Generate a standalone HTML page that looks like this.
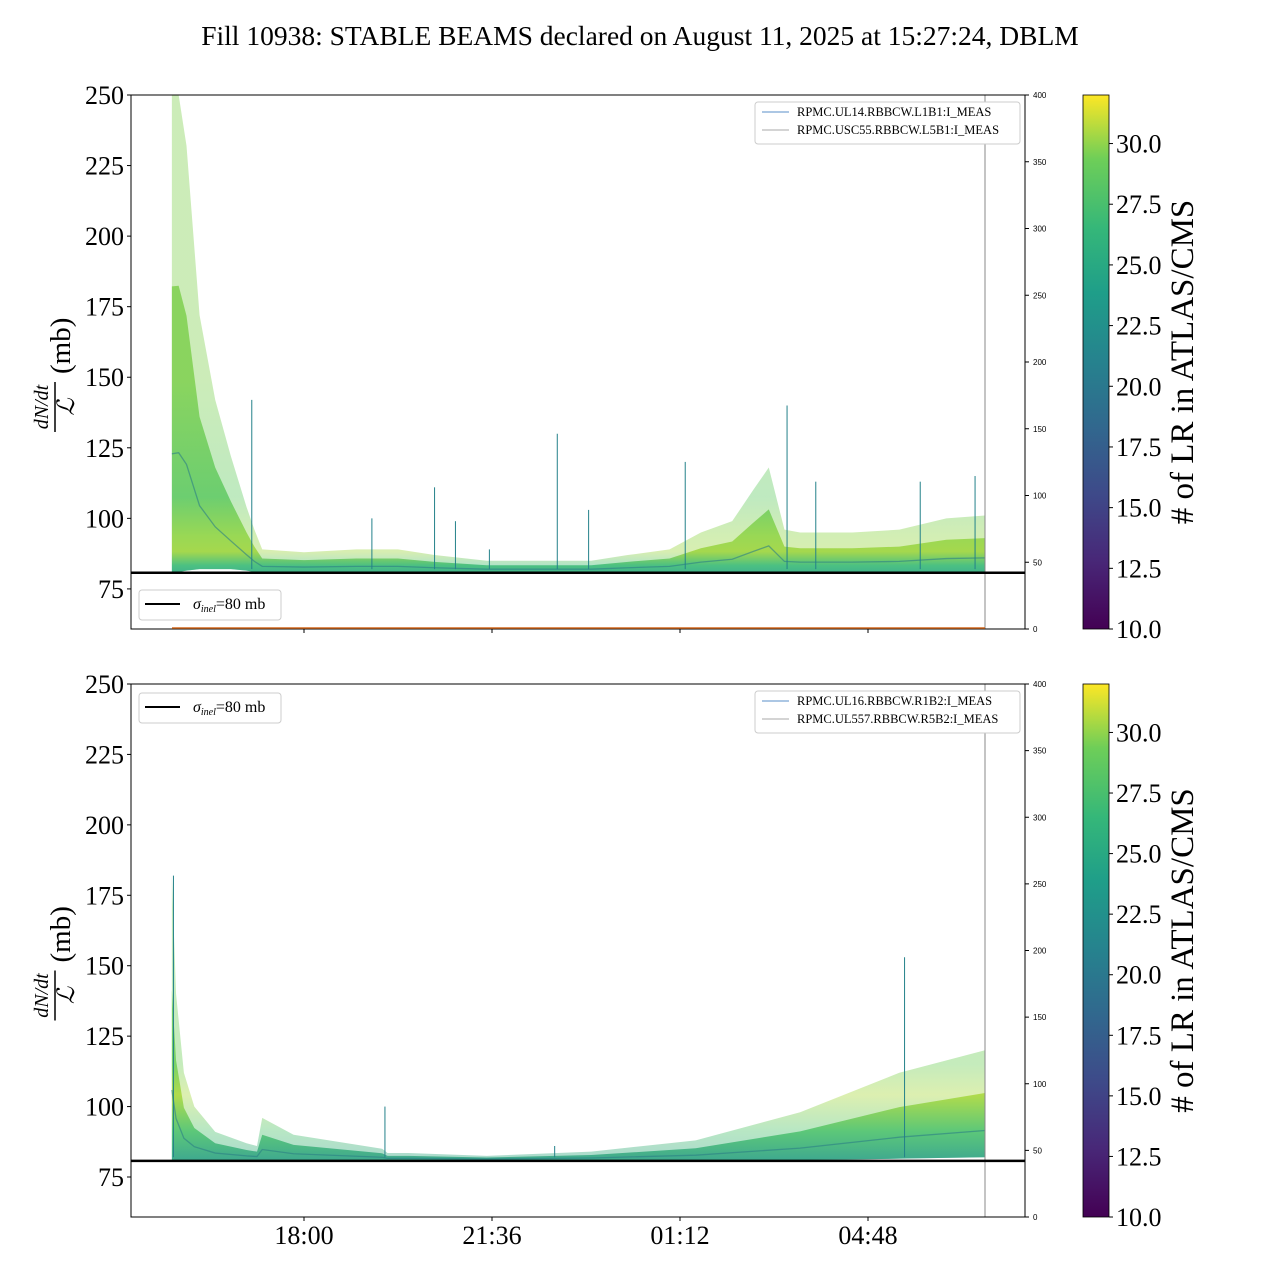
<!DOCTYPE html>
<html><head><meta charset="utf-8"><style>
body{margin:0;background:#fff;}
svg{display:block;font-family:"Liberation Serif","DejaVu Serif",serif;}
</style></head><body>
<svg id="chart" width="1280" height="1280" viewBox="0 0 1280 1280">
<defs>
<linearGradient id="viridis" x1="0" y1="1" x2="0" y2="0">
<stop offset="0" stop-color="#440154"/><stop offset="0.13" stop-color="#482878"/><stop offset="0.25" stop-color="#3e4989"/><stop offset="0.38" stop-color="#31688e"/><stop offset="0.5" stop-color="#26828e"/><stop offset="0.63" stop-color="#1f9e89"/><stop offset="0.75" stop-color="#35b779"/><stop offset="0.88" stop-color="#6ece58"/><stop offset="1" stop-color="#fde725"/>
</linearGradient>
<linearGradient id="bandTop" gradientUnits="userSpaceOnUse" x1="0" y1="575" x2="0" y2="380">
<stop offset="0" stop-color="#2aa884"/><stop offset="0.05" stop-color="#3bbb75"/><stop offset="0.12" stop-color="#9cd43c"/><stop offset="0.2" stop-color="#8fd444"/><stop offset="0.4" stop-color="#5ec962"/><stop offset="1" stop-color="#7fd04f"/>
</linearGradient>
<linearGradient id="bandBot" gradientUnits="userSpaceOnUse" x1="0" y1="1162" x2="0" y2="1040">
<stop offset="0" stop-color="#2a9f85"/><stop offset="0.25" stop-color="#4cc26c"/><stop offset="0.55" stop-color="#a8d83a"/><stop offset="0.8" stop-color="#6ece58"/><stop offset="1" stop-color="#6ece58"/>
</linearGradient>
</defs>
<text x="640" y="45" text-anchor="middle" font-size="27.5">Fill 10938: STABLE BEAMS declared on August 11, 2025 at 15:27:24, DBLM</text>
<g id="top"></g>
<g id="bot"></g>
</svg>
<script>
// ---- data (hours since midnight Aug 11; >24 = next day) ----
const topHours = [15.47,15.6,15.75,16.0,16.3,16.6,16.9,17.05,17.2,18.0,19.0,19.8,20.5,21.5,22.5,23.5,24.2,25.0,25.6,26.2,26.6,26.9,27.2,27.5,28.5,29.4,30.3,31.04];
const topUpper = [250,250,232,172,142,122,104,96,89,88,89,89,87,85,85,85,87,89,95,99,110,118,96,95,95,96,100,101];
const topLower = [80.5,81,81.5,82,82,82,81.5,81,81,81,81,81,81,81,81,81,81,81,81,81,81,81,81,81,81,81,81,81];
const topSpikeHours = [17.0,19.3,20.5,20.9,21.55,22.85,23.45,25.3,27.25,27.8,29.8,30.85];
const topSpikeValues = [142,100,111,99,89,130,103,120,140,113,113,115];

const botHours = [15.47,15.55,15.7,15.9,16.3,16.9,17.1,17.2,17.8,19.5,19.6,20.0,21.5,23.5,25.5,27.5,29.4,31.04];
const botUpper = [182,140,112,100,91,87,86,96,90,85,83.5,83.5,82.5,84,88,98,112,120];
const botLower = [80.5,81,81,81,81,81,81,81,81,81,81,81,81,81,81,81,81.5,82];
const botSpikeHours = [15.5,19.55,22.8,29.5];
const botSpikeValues = [182,100,86,153];

const rightTicks = [0,50,100,150,200,250,300,350,400];
const leftTicks = [75,100,125,150,175,200,225,250];
const cbTicks = [10.0,12.5,15.0,17.5,20.0,22.5,25.0,27.5,30.0];
const xTickHours = [18.0,21.6,25.2,28.8];
const xTickLabels = ["18:00","21:36","01:12","04:48"];

const NS = "http://www.w3.org/2000/svg";
function mk(tag, attrs, parent){const e=document.createElementNS(NS,tag);for(const k in attrs)e.setAttribute(k,attrs[k]);parent.appendChild(e);return e;}
const X0=131,X1=1025;
function xs(h){return 304+(h-18)*188/3.6;}

function panel(g, top, bot, hours, upper, lower, sHours, sVals, grad, legendTop, names){
  const y75=top+(bot-top)*(175/189.2);
  function ys(v){return top+(250-v)*(y75-top)/175;}
  const clipId='clip'+top;
  const cp=mk('clipPath',{id:clipId},g);mk('rect',{x:X0,y:top,width:X1-X0,height:bot-top},cp);
  const dg=mk('g',{'clip-path':'url(#'+clipId+')'},g);
  let pts=[];
  hours.forEach((h,i)=>pts.push(xs(h)+','+ys(upper[i])));
  for(let i=hours.length-1;i>=0;i--)pts.push(xs(hours[i])+','+ys(lower[i]));
  const ob=mk('polygon',{points:pts.join(' '),fill:grad,'fill-opacity':0.4},dg);
  
  
  pts=[];
  hours.forEach((h,i)=>pts.push(xs(h)+','+ys(lower[i]+0.6*(upper[i]-lower[i]))));
  for(let i=hours.length-1;i>=0;i--)pts.push(xs(hours[i])+','+ys(lower[i]));
  const ib=mk('polygon',{points:pts.join(' '),fill:grad,'fill-opacity':0.85},dg);
  
  
  pts=hours.map((h,i)=>xs(h)+','+ys(lower[i]+0.25*(upper[i]-lower[i])));
  const bl=mk('polyline',{points:pts.join(' '),fill:'none',stroke:'#2b7f86','stroke-width':1.3,'stroke-opacity':0.6},dg);
  
  
  sHours.forEach((h,i)=>{
    const s=mk('line',{x1:xs(h),x2:xs(h),y1:ys(82),y2:ys(sVals[i]),stroke:'#23818a','stroke-width':1},dg);
    
    
  });
  mk('line',{x1:985,x2:985,y1:top,y2:bot,stroke:'#888','stroke-width':1},g);
  const rl=mk('line',{x1:X0,x2:X1,y1:ys(80)-2,y2:ys(80)-2,stroke:'#000','stroke-width':2.5},g);
  
  
  mk('rect',{x:X0,y:top,width:X1-X0,height:bot-top,fill:'none',stroke:'#000','stroke-width':1},g);
  leftTicks.forEach(v=>{
    mk('line',{x1:X0-4,x2:X0,y1:ys(v),y2:ys(v),stroke:'#000'},g);
    const t=mk('text',{x:X0-7,y:ys(v)+9,'text-anchor':'end','font-size':26},g);t.textContent=v;
    
    
  });
  rightTicks.forEach(v=>{
    const y=bot-(bot-top)*v/400;
    mk('line',{x1:X1,x2:X1+4,y1:y,y2:y,stroke:'#000'},g);
    const t=mk('text',{x:X1+8,y:y+3,'font-size':8,'font-family':'Liberation Sans, sans-serif'},g);t.textContent=v;
    
    
  });
  xTickHours.forEach(h=>mk('line',{x1:xs(h),x2:xs(h),y1:bot,y2:bot+4,stroke:'#000'},g));
  const yl=mk('g',{transform:'translate(60,'+((top+bot)/2)+') rotate(-90)'},g);
  
  
  let t=mk('text',{x:-45,y:-12,'font-size':20,'font-style':'italic','text-anchor':'middle'},yl);t.textContent='dN/dt';
  mk('line',{x1:-70,x2:-20,y1:-5,y2:-5,stroke:'#000','stroke-width':1.5},yl);
  t=mk('text',{x:-45,y:14,'font-size':24,'font-style':'italic','text-anchor':'middle'},yl);t.textContent='ℒ';
  t=mk('text',{x:-12,y:10,'font-size':29},yl);t.textContent='(mb)';
  const lg=mk('g',{},g);
  
  
  mk('rect',{x:755,y:top+7,width:265,height:42,rx:3,fill:'#fff',stroke:'#ccc'},lg);
  mk('line',{x1:762,x2:789,y1:top+17,y2:top+17,stroke:'#5a8fc8','stroke-width':1},lg);
  mk('line',{x1:762,x2:789,y1:top+35,y2:top+35,stroke:'#aaa','stroke-width':1},lg);
  t=mk('text',{x:797,y:top+21,'font-size':12.5},lg);t.textContent=names[0];
  t=mk('text',{x:797,y:top+39,'font-size':12.5},lg);t.textContent=names[1];
  const sl=mk('g',{},g);
  
  
  mk('rect',{x:139,y:legendTop,width:142,height:30,rx:3,fill:'#fff',stroke:'#ccc'},sl);
  mk('line',{x1:145,x2:180,y1:legendTop+14,y2:legendTop+14,stroke:'#000','stroke-width':2},sl);
  t=mk('text',{x:193,y:legendTop+19,'font-size':16},sl);
  t.innerHTML='<tspan font-style="italic">σ</tspan><tspan font-style="italic" font-size="10" dy="3">inel</tspan><tspan dy="-3">=80 mb</tspan>';
  const cb=mk('g',{},g);
  
  
  mk('rect',{x:1083,y:top,width:26,height:bot-top,fill:'url(#viridis)',stroke:'#000','stroke-width':0.8},cb);
  cbTicks.forEach(v=>{
    const y=bot-(bot-top)*(v-10)/22;
    mk('line',{x1:1109,x2:1113,y1:y,y2:y,stroke:'#000'},cb);
    const tt=mk('text',{x:1116,y:y+9,'font-size':26},cb);tt.textContent=v.toFixed(1);
  });
  const ct=mk('text',{transform:'translate(1193,'+((top+bot)/2)+') rotate(-90)','text-anchor':'middle','font-size':33},cb);
  ct.textContent='# of LR in ATLAS/CMS';
  return ys;
}
const gt=document.getElementById('top'), gb=document.getElementById('bot');
panel(gt,95,629,topHours,topUpper,topLower,topSpikeHours,topSpikeValues,'url(#bandTop)',590,['RPMC.UL14.RBBCW.L1B1:I_MEAS','RPMC.USC55.RBBCW.L5B1:I_MEAS']);
mk('line',{x1:172,x2:985,y1:628,y2:628,stroke:'#d2691e','stroke-width':1.5},gt);
panel(gb,684,1217,botHours,botUpper,botLower,botSpikeHours,botSpikeValues,'url(#bandBot)',693,['RPMC.UL16.RBBCW.R1B2:I_MEAS','RPMC.UL557.RBBCW.R5B2:I_MEAS']);
xTickHours.forEach((h,i)=>{
  const t=mk('text',{x:xs(h),y:1244,'text-anchor':'middle','font-size':26},gb);
  t.textContent=xTickLabels[i];
  
  
});
</script>
</body></html>
